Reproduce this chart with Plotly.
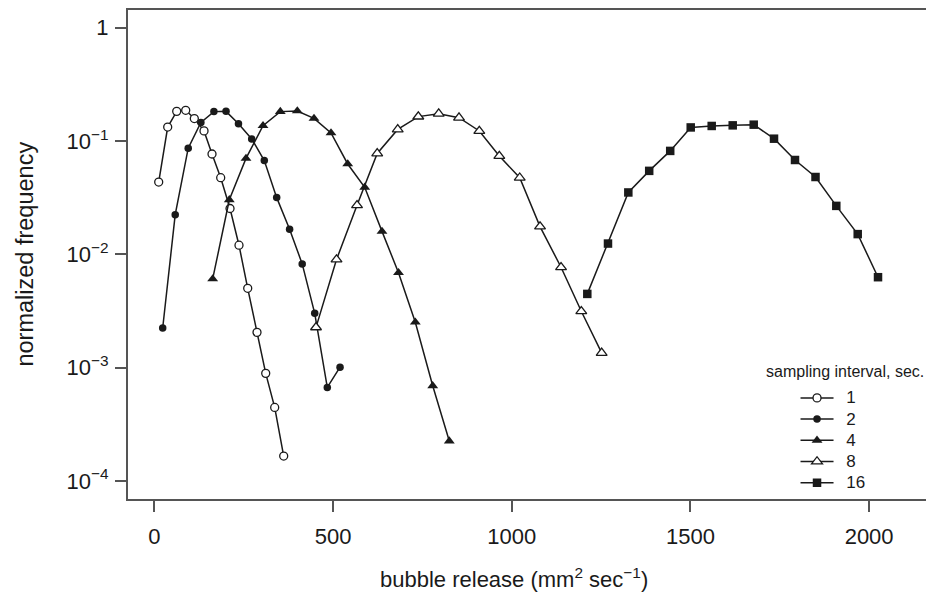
import plotly.graph_objects as go

# ---- data ----
interval_names = ["1", "2", "4", "8", "16"]

interval1_x = [12.0, 37.2, 62.4, 87.6, 111.7, 138.8, 161.2, 185.5, 211.6, 236.7, 261.1, 287.1, 311.5, 336.6, 361.8]
interval1_y = [0.0435, 0.133, 0.183, 0.187, 0.158, 0.123, 0.0769, 0.0475, 0.0254, 0.01205, 0.00502, 0.00205, 0.000891, 0.000446, 0.000166]

interval2_x = [23.2, 58.2, 94.6, 130.1, 166.5, 200.4, 235.3, 272.3, 307.5, 342.2, 378.3, 413.6, 448.6, 483.8, 519.4]
interval2_y = [0.00224, 0.0224, 0.0865, 0.146, 0.182, 0.183, 0.142, 0.1045, 0.0673, 0.0317, 0.01664, 0.00824, 0.00302, 0.00067, 0.00101]

interval4_x = [163.1, 209.6, 256.3, 303.9, 352.3, 399.9, 446.6, 494.2, 540.9, 588.5, 636.9, 683.1, 730.1, 778.8, 825.2]
interval4_y = [0.00607, 0.0303, 0.0703, 0.1368, 0.182, 0.1845, 0.1585, 0.118, 0.0628, 0.0391, 0.01596, 0.00689, 0.00252, 0.000692, 0.000225]

interval8_x = [452.2, 509.6, 567.0, 623.5, 680.9, 738.5, 795.6, 852.4, 909.2, 965.2, 1022.3, 1079.1, 1137.9, 1194.6, 1251.6]
interval8_y = [0.00227, 0.0090, 0.0271, 0.0778, 0.1268, 0.1644, 0.1746, 0.161, 0.1228, 0.0738, 0.0475, 0.0176, 0.0077, 0.00315, 0.00135]

interval16_x = [1211.4, 1269.3, 1326.2, 1384.6, 1443.4, 1500.8, 1559.5, 1618.3, 1677.1, 1733.9, 1792.6, 1850.0, 1908.2, 1968.1, 2024.9]
interval16_y = [0.00448, 0.01246, 0.0352, 0.0546, 0.0819, 0.132, 0.136, 0.1377, 0.1396, 0.105, 0.0681, 0.0482, 0.0268, 0.0151, 0.00629]

x_tickvals = [0, 500, 1000, 1500, 2000]
y_tickvals = [1, 0.1, 0.01, 0.001, 0.0001]
y_ticktext = ["1", "10<sup>\u22121</sup>", "10<sup>\u22122</sup>", "10<sup>\u22123</sup>", "10<sup>\u22124</sup>"]

# ---- styling ----
FONT = "Liberation Sans, Arial, Helvetica, sans-serif"
INK = "#1a1a1a"
AXIS = "#555555"

marker_styles = [
    dict(symbol="circle", size=8, color="white", line=dict(color=INK, width=1.3)),
    dict(symbol="circle", size=7.5, color=INK, line=dict(color=INK, width=0)),
    dict(symbol="triangle-up", size=9.5, color=INK, line=dict(color=INK, width=0)),
    dict(symbol="triangle-up", size=9.5, color="white", line=dict(color=INK, width=1.3)),
    dict(symbol="square", size=8.5, color=INK, line=dict(color=INK, width=0)),
]

series_x = [interval1_x, interval2_x, interval4_x, interval8_x, interval16_x]
series_y = [interval1_y, interval2_y, interval4_y, interval8_y, interval16_y]

fig = go.Figure()
for name, xs, ys, mk in zip(interval_names, series_x, series_y, marker_styles):
    fig.add_trace(go.Scatter(
        x=xs, y=ys, mode="lines+markers",
        name="\u00a0\u00a0<span style='font-size:17px'>" + name + "</span>",
        line=dict(color=INK, width=1.5),
        marker=mk,
    ))

fig.update_layout(
    width=926, height=593,
    margin=dict(l=128, r=0, t=10, b=94),
    paper_bgcolor="white", plot_bgcolor="white",
    font=dict(family=FONT, size=22, color=INK),
    showlegend=True,
    legend=dict(
        x=0.8365, xanchor="left", y=0.2387, yanchor="top",
        bgcolor="rgba(0,0,0,0)", borderwidth=0,
        font=dict(size=14, color=INK),
        itemwidth=33, tracegroupgap=0,
    ),
    xaxis=dict(
        range=[-73.9, 2159.2], tickvals=x_tickvals,
        showgrid=False, zeroline=False,
        showline=True, linecolor=AXIS, linewidth=2, mirror=True,
        ticks="outside", ticklen=11, tickwidth=1.5, tickcolor=AXIS,
        tickfont=dict(size=22, color=INK), ticklabelstandoff=6,
    ),
    yaxis=dict(
        type="log", range=[-4.159, 0.157],
        tickvals=y_tickvals, ticktext=y_ticktext,
        showgrid=False, zeroline=False,
        showline=True, linecolor=AXIS, linewidth=2, mirror=False,
        ticks="outside", ticklen=11, tickwidth=1.5, tickcolor=AXIS,
        tickfont=dict(size=22, color=INK), ticklabelstandoff=2,
    ),
    annotations=[
        dict(text="bubble release (mm<sup>2</sup> sec<sup>\u22121</sup>)",
             xref="paper", yref="paper", x=0.484, y=-0.1616,
             xanchor="center", yanchor="middle", showarrow=False,
             font=dict(size=22, color=INK)),
        dict(text="normalized frequency",
             xref="paper", yref="paper", x=-0.1303, y=0.5,
             xanchor="center", yanchor="middle", textangle=-90, showarrow=False,
             font=dict(size=23.5, color=INK)),
        dict(text="sampling interval, sec.",
             xref="paper", yref="paper", x=1.0, y=0.261,
             xanchor="right", yanchor="middle", showarrow=False,
             font=dict(size=16, color=INK)),
    ],
)

fig.write_html("out.html")
